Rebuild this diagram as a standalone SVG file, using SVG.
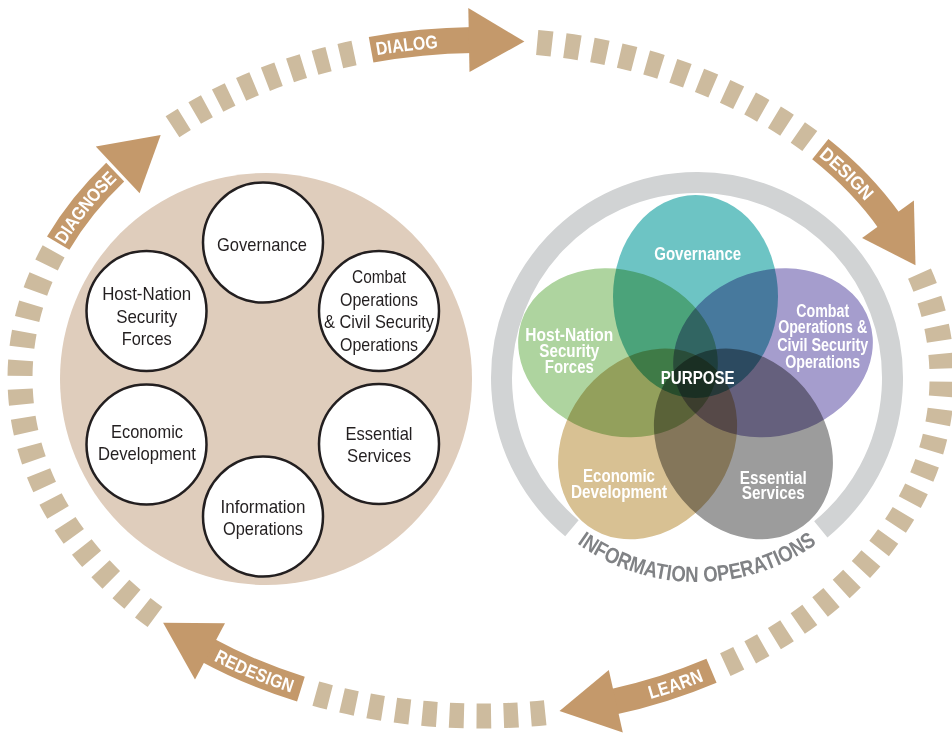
<svg xmlns="http://www.w3.org/2000/svg" xmlns:xlink="http://www.w3.org/1999/xlink" width="952" height="739" viewBox="0 0 952 739">
  <style>
    .dash { fill: none; stroke: #cdbb9e; stroke-width: 25; stroke-dasharray: 15 13; }
    .band { fill: none; stroke: #c4996b; stroke-width: 26; stroke-linecap: butt; }
    .head { fill: #c4996b; }
    .alabel { font-family: "Liberation Sans", Arial, sans-serif; font-weight: bold; font-size: 18.5px; fill: #ffffff; }
    .node { fill: #ffffff; stroke: #231f20; stroke-width: 2.5; }
    .ntext { font-family: "Liberation Sans", Arial, sans-serif; font-size: 18.5px; fill: #231f20; text-anchor: middle; }
    .vset { mix-blend-mode: multiply; }
    .vtext { font-family: "Liberation Sans", Arial, sans-serif; font-weight: bold; font-size: 18px; fill: #ffffff; text-anchor: middle; }
    .iotext { font-family: "Liberation Sans", Arial, sans-serif; font-weight: bold; font-size: 22px; fill: #808285; }
  </style>
  <defs>
    <!-- centre lines of the cycle arrows, all on one ellipse (481,378) rx 461 ry 338 -->
    <path id="p-dialog" d="M 371.1 49.8 A 461 338 0 0 1 473.0 40.05"/>
    <path id="p-design" d="M 820.3 149.2 A 461 338 0 0 1 889.9 221.9"/>
    <path id="p-learn" d="M 711.5 670.7 A 461 338 0 0 1 611.9 702.1"/>
    <path id="p-learn-txt" d="M 611.9 702.1 A 461 338 0 0 0 711.5 670.7"/>
    <path id="p-redesign" d="M 300.9 689.1 A 461 338 0 0 1 206.8 649.7"/>
    <path id="p-redesign-txt" d="M 206.8 649.7 A 461 338 0 0 0 300.9 689.1"/>
    <path id="p-diagnose" d="M 58.2 243.2 A 461 338 0 0 1 115.2 172.2"/>
    <path id="p-io" d="M 553.5 523.5 A 205 205 0 0 0 840.5 523.5"/>
  </defs>

  <rect width="952" height="739" fill="#ffffff"/>

  <!-- dashed cycle track between the arrows; pathLength keeps a whole dash at both ends -->
  <g id="cycle-track">
    <path class="dash" pathLength="295" d="M 537.2 42.5 A 461 338 0 0 1 809.8 141.1"/>
    <path class="dash" pathLength="491" d="M 919.5 273.6 A 461 338 0 0 1 725.3 664.6"/>
    <path class="dash" pathLength="239" d="M 545.2 712.7 A 461 338 0 0 1 315.8 693.6"/>
    <path class="dash" pathLength="407" d="M 155.0 617.0 A 461 338 0 0 1 53.6 251.4"/>
    <path class="dash" pathLength="211" d="M 172.5 126.8 A 461 338 0 0 1 354.0 53.1"/>
  </g>

  <!-- cycle arrows -->
  <g id="connectors">
    <g id="arrow-dialog">
      <use href="#p-dialog" class="band"/>
      <polygon class="head" points="468.3,8.1 524.4,41.5 469.5,72.1"/>
      <text class="alabel" dy="6.5"><textPath href="#p-dialog" startOffset="5" textLength="62" lengthAdjust="spacingAndGlyphs">DIALOG</textPath></text>
    </g>
    <g id="arrow-design">
      <use href="#p-design" class="band"/>
      <polygon class="head" points="913.9,200.5 915.5,265.2 862.1,238.1"/>
      <text class="alabel" dy="6.5"><textPath href="#p-design" startOffset="3" textLength="66" lengthAdjust="spacingAndGlyphs">DESIGN</textPath></text>
    </g>
    <g id="arrow-learn">
      <use href="#p-learn" class="band"/>
      <polygon class="head" points="622.8,732.4 559.5,711.1 608.8,670.0"/>
      <text class="alabel" dy="6.5"><textPath href="#p-learn-txt" startOffset="38" textLength="56" lengthAdjust="spacingAndGlyphs">LEARN</textPath></text>
    </g>
    <g id="arrow-redesign">
      <use href="#p-redesign" class="band"/>
      <polygon class="head" points="195.0,679.6 163.1,622.8 225.0,623.2"/>
      <text class="alabel" dy="6.5"><textPath href="#p-redesign-txt" startOffset="11" textLength="83" lengthAdjust="spacingAndGlyphs">REDESIGN</textPath></text>
    </g>
    <g id="arrow-diagnose">
      <use href="#p-diagnose" class="band"/>
      <polygon class="head" points="95.8,146.6 160.7,134.9 139.6,193.2"/>
      <text class="alabel" dy="6.5"><textPath href="#p-diagnose" startOffset="2" textLength="86" lengthAdjust="spacingAndGlyphs">DIAGNOSE</textPath></text>
    </g>
  </g>

  <!-- left: separate lines of effort -->
  <g id="loe-field">
    <circle cx="266" cy="379" r="206" fill="#dfcdbc"/>
  </g>
  <g id="loe-governance">
    <circle class="node" cx="263" cy="242.5" r="60"/>
    <text class="ntext" x="262" y="251" textLength="90" lengthAdjust="spacingAndGlyphs">Governance</text>
  </g>
  <g id="loe-combat">
    <circle class="node" cx="379" cy="311" r="60"/>
    <text class="ntext" x="379" y="283.3" textLength="54" lengthAdjust="spacingAndGlyphs">Combat</text>
    <text class="ntext" x="379" y="306" textLength="78" lengthAdjust="spacingAndGlyphs">Operations</text>
    <text class="ntext" x="379" y="328.3" textLength="110" lengthAdjust="spacingAndGlyphs">&amp; Civil Security</text>
    <text class="ntext" x="379" y="351" textLength="78" lengthAdjust="spacingAndGlyphs">Operations</text>
  </g>
  <g id="loe-essential">
    <circle class="node" cx="379" cy="444" r="60"/>
    <text class="ntext" x="379" y="440" textLength="67" lengthAdjust="spacingAndGlyphs">Essential</text>
    <text class="ntext" x="379" y="461.7" textLength="64" lengthAdjust="spacingAndGlyphs">Services</text>
  </g>
  <g id="loe-information">
    <circle class="node" cx="263" cy="516.5" r="60"/>
    <text class="ntext" x="263" y="513.3" textLength="85" lengthAdjust="spacingAndGlyphs">Information</text>
    <text class="ntext" x="263" y="535" textLength="80" lengthAdjust="spacingAndGlyphs">Operations</text>
  </g>
  <g id="loe-economic">
    <circle class="node" cx="146.5" cy="444.5" r="60"/>
    <text class="ntext" x="147" y="438.3" textLength="72" lengthAdjust="spacingAndGlyphs">Economic</text>
    <text class="ntext" x="147" y="460" textLength="98" lengthAdjust="spacingAndGlyphs">Development</text>
  </g>
  <g id="loe-hostnation">
    <circle class="node" cx="146.5" cy="311" r="60"/>
    <text class="ntext" x="146.7" y="300" textLength="89" lengthAdjust="spacingAndGlyphs">Host-Nation</text>
    <text class="ntext" x="146.7" y="323.3" textLength="61" lengthAdjust="spacingAndGlyphs">Security</text>
    <text class="ntext" x="146.7" y="345" textLength="50" lengthAdjust="spacingAndGlyphs">Forces</text>
  </g>

  <!-- right: integrated lines of effort inside the information operations ring -->
  <g id="io-ring">
    <path d="M 571.9 528.2 A 195.5 195.5 0 1 1 820.8 529.3" fill="none" stroke="#d1d3d4" stroke-width="21"/>
    <text class="iotext" text-anchor="middle"><textPath href="#p-io" startOffset="50%" textLength="256" lengthAdjust="spacingAndGlyphs">INFORMATION OPERATIONS</textPath></text>
  </g>

  <g id="venn-governance"><ellipse class="vset" cx="695.5" cy="296.5" rx="82.5" ry="101.5" fill="#6dc4c4"/></g>
  <g id="venn-combat"><ellipse class="vset" cx="695.5" cy="296.5" rx="82.5" ry="101.5" fill="#a59dcd" transform="rotate(72 695.5 378)"/></g>
  <g id="venn-essential"><ellipse class="vset" cx="695.5" cy="296.5" rx="82.5" ry="101.5" fill="#9c9c9c" transform="rotate(144 695.5 378)"/></g>
  <g id="venn-economic"><ellipse class="vset" cx="695.5" cy="296.5" rx="82.5" ry="101.5" fill="#d8c193" transform="rotate(216 695.5 378)"/></g>
  <g id="venn-hostnation"><ellipse class="vset" cx="695.5" cy="296.5" rx="82.5" ry="101.5" fill="#aed49f" transform="rotate(288 695.5 378)"/></g>

  <g id="venn-labels">
    <text class="vtext" x="697.7" y="260" textLength="87" lengthAdjust="spacingAndGlyphs">Governance</text>
    <text class="vtext" x="569.3" y="340.7" textLength="88" lengthAdjust="spacingAndGlyphs">Host-Nation</text>
    <text class="vtext" x="569.3" y="357.3" textLength="60" lengthAdjust="spacingAndGlyphs">Security</text>
    <text class="vtext" x="569.3" y="373.3" textLength="49" lengthAdjust="spacingAndGlyphs">Forces</text>
    <text class="vtext" x="822.7" y="316.7" textLength="53" lengthAdjust="spacingAndGlyphs">Combat</text>
    <text class="vtext" x="822.7" y="333.3" textLength="89" lengthAdjust="spacingAndGlyphs">Operations &amp;</text>
    <text class="vtext" x="822.7" y="350.7" textLength="91" lengthAdjust="spacingAndGlyphs">Civil Security</text>
    <text class="vtext" x="822.7" y="367.7" textLength="75" lengthAdjust="spacingAndGlyphs">Operations</text>
    <text class="vtext" x="697.7" y="384" textLength="74" lengthAdjust="spacingAndGlyphs">PURPOSE</text>
    <text class="vtext" x="619" y="481.7" textLength="72" lengthAdjust="spacingAndGlyphs">Economic</text>
    <text class="vtext" x="619" y="497.7" textLength="96" lengthAdjust="spacingAndGlyphs">Development</text>
    <text class="vtext" x="773.3" y="484" textLength="67" lengthAdjust="spacingAndGlyphs">Essential</text>
    <text class="vtext" x="773.3" y="499.3" textLength="63" lengthAdjust="spacingAndGlyphs">Services</text>
  </g>
</svg>
